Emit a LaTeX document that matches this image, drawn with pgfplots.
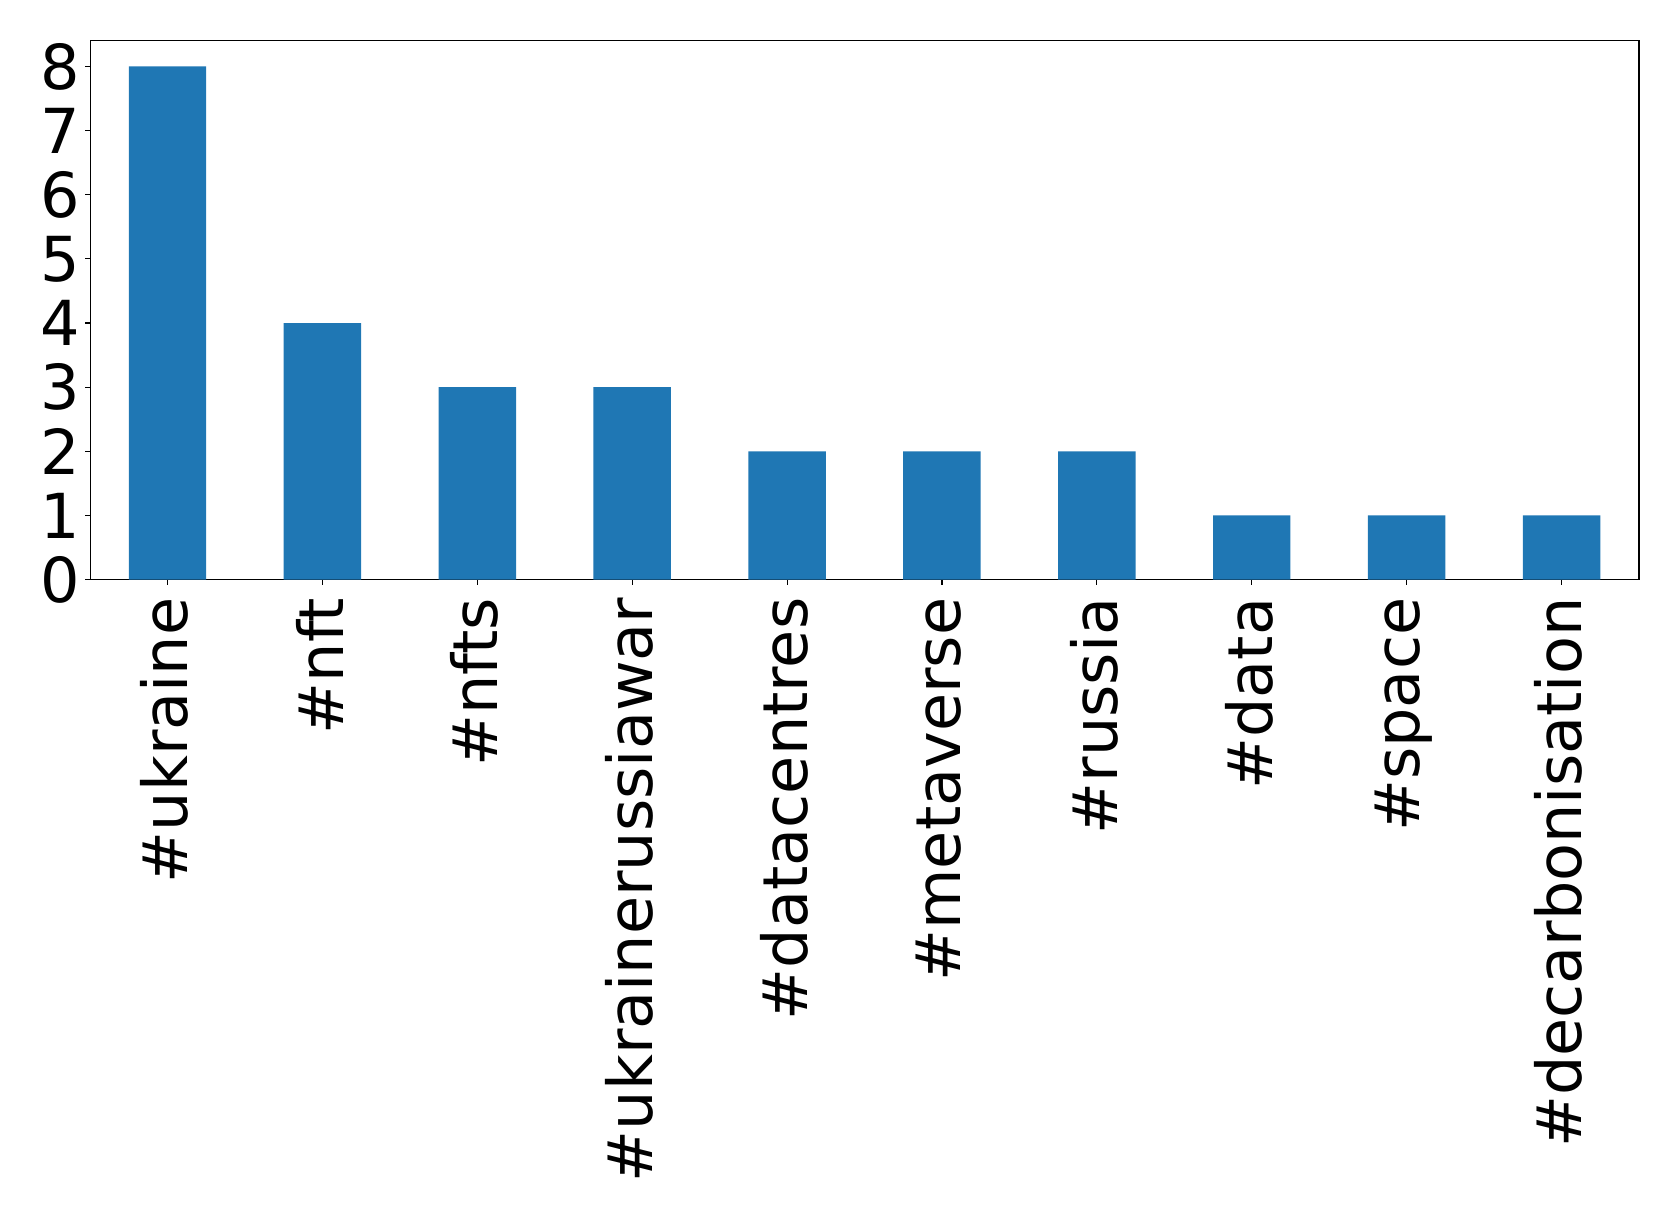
\documentclass[border=0pt]{standalone}
\usepackage{fontspec}
\setmainfont{DejaVu Sans}
\usepackage{pgfplots}
\pgfplotsset{compat=1.18}
\definecolor{mplblue}{HTML}{1F77B4}
\begin{document}
\begin{tikzpicture}
\begin{axis}[
  name=ax,
  scale only axis,
  width=774pt, height=269.2pt,
  xmin=-0.5, xmax=9.5, ymin=0, ymax=8.4,
  ybar, bar width=0.5,
  xtick={0,...,9},
  xticklabels={\#ukraine,\#nft,\#nfts,\#ukrainerussiawar,\#datacentres,\#metaverse,\#russia,\#data,\#space,\#decarbonisation},
  ytick={0,...,8},
  xtick pos=bottom, ytick pos=left,
  tick align=outside,
  major tick length=2.5pt,
  every tick/.style={black, line width=0.55pt},
  axis line style={line width=0.55pt},
  /pgf/number format/assume math mode=true,
  tick label style={font=\fontsize{31}{31}\selectfont, inner sep=0pt},
  x tick label style={xshift=-1.4pt, yshift=-6.4pt, rotate=90, anchor=east},
  y tick label style={anchor=east, xshift=-2.5pt},
]
\addplot[fill=mplblue, draw=none] coordinates {
(0,8) (1,4) (2,3) (3,3) (4,2) (5,2) (6,2) (7,1) (8,1) (9,1)
};
\end{axis}
\pgfresetboundingbox
\path[use as bounding box] ([shift={(-45pt,-319pt)}]ax.south west) rectangle ([shift={(20pt,20.4pt)}]ax.north east);
\end{tikzpicture}
\end{document}
